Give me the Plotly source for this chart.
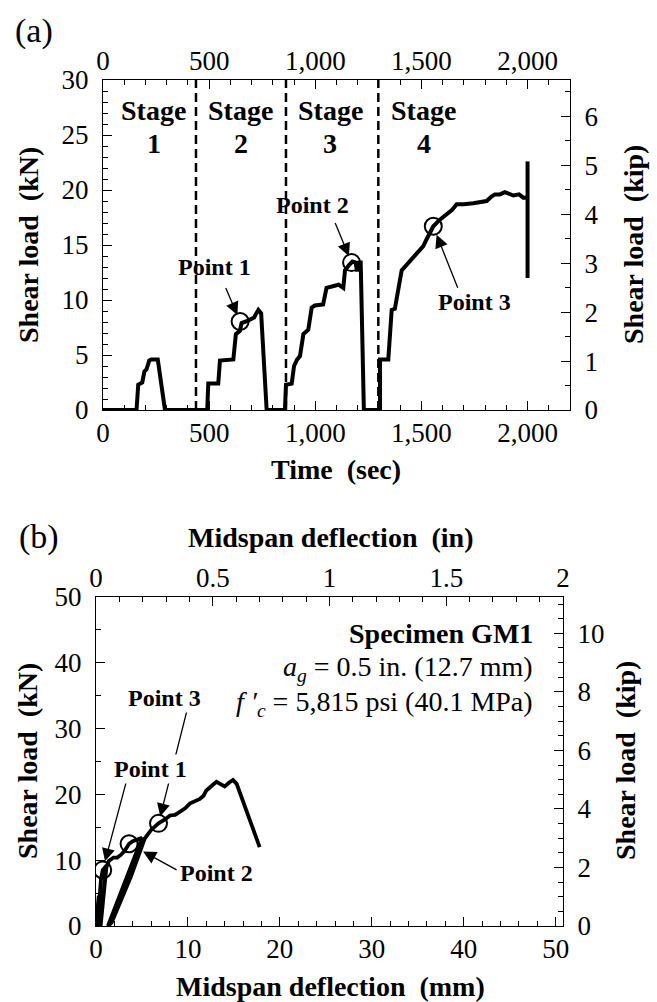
import plotly.graph_objects as go

KN_PER_KIP = 4.448
MM_PER_IN = 25.4
FONT = "Liberation Serif, Times New Roman, serif"

# ---------------- Panel (a): shear load vs time ----------------
time_s = [0, 158, 166, 185, 195, 205, 218, 228, 258, 292,
          491, 496, 543, 551, 614, 626, 645, 653, 680, 700, 712, 720, 732, 745, 771,
          857, 862, 889, 900, 915, 928, 944, 967, 983, 998, 1037, 1053, 1092, 1110, 1132,
          1140, 1160, 1175, 1190, 1197, 1207, 1214, 1229,
          1305, 1305, 1344, 1360, 1375, 1407, 1430, 1446, 1465, 1480, 1493, 1509, 1524,
          1540, 1556, 1587, 1619, 1645, 1666, 1700, 1744, 1780, 1807, 1830, 1846, 1870,
          1893, 1933, 1960, 1980, 2000]
load_a_kN = [0, 0, 2.3, 2.5, 3.5, 3.7, 4.5, 4.6, 4.6, 0,
             0, 2.4, 2.4, 4.5, 4.6, 6.9, 7.2, 7.9, 8.1, 8.3, 8.4, 8.7, 9.1, 8.8, 0,
             0, 2.3, 2.4, 4.0, 4.6, 4.9, 6.9, 7.3, 9.3, 9.5, 9.6, 11.1, 11.3, 11.4, 11.1,
             12.7, 13.2, 13.5, 13.4, 12.6, 13.4, 13.4, 0,
             0, 4.6, 4.6, 9.1, 9.2, 12.7, 13.2, 13.5, 13.9, 14.3, 14.6, 14.9, 15.5,
             16.2, 16.7, 17.3, 17.8, 18.2, 18.7, 18.7, 18.8, 18.9, 19.0, 19.4, 19.6, 19.6,
             19.8, 19.5, 19.6, 19.3, 19.3]
end_time_s = [2000, 2000]
end_load_kN = [12.0, 22.6]
stage_bounds_s = [438, 862, 1297]
stage_names = ["1", "2", "3", "4"]
stage_label_t = [239, 648, 1071, 1511]
points_a_t = [646, 1171, 1556]
points_a_kN = [8.05, 13.4, 16.7]
point_names = ["Point 1", "Point 2", "Point 3"]

time_tickvals = [0, 500, 1000, 1500, 2000]
time_ticktext = ["0", "500", "1,000", "1,500", "2,000"]

# ---------------- Panel (b): shear load vs midspan deflection ----------------
defl_mm = [0, 0.2, 0.3, 0.15, 0.35, 0.55, 0.73, 0.95, 1.15, 0.5,
           0.8, 1.1, 1.4, 1.9, 2.3, 2.7, 3.1, 3.4, 3.6, 4.0, 4.5, 5.0, 1.3,
           1.7, 3.8, 5.3, 6.0, 6.8, 7.5, 8.05, 8.6, 9.1, 9.7, 10.2, 10.8, 11.3, 11.7, 12.0,
           12.5, 13.1, 13.5, 14.0, 14.5, 14.9, 15.3, 17.8]
load_b_kN = [0, 2.5, 4.6, 0, 4.0, 7.2, 8.5, 9.0, 9.2, 0,
             5.0, 8.8, 9.9, 10.4, 10.4, 10.8, 11.4, 12.0, 12.5, 12.9, 13.1, 13.4, 0,
             0.5, 7.5, 13.3, 14.6, 15.6, 16.2, 16.8, 16.9, 17.3, 17.9, 18.6, 18.9, 19.3, 19.8, 20.6,
             21.2, 21.9, 21.6, 21.2, 21.8, 22.2, 21.6, 12.0]
points_b_mm = [0.73, 3.6, 6.8]
points_b_kN = [8.5, 12.5, 15.6]

W, H = 657, 1002


def px(x):
    return x / W


def py(y):
    return 1 - y / H


fig = go.Figure()

# panel (a) traces
for b in stage_bounds_s:
    fig.add_trace(go.Scatter(x=[b, b], y=[0, 30], mode="lines",
                             line=dict(color="black", width=2.5, dash="9px,5px"),
                             xaxis="x", yaxis="y", hoverinfo="skip"))
fig.add_trace(go.Scatter(x=time_s, y=load_a_kN, mode="lines",
                         line=dict(color="black", width=4), xaxis="x", yaxis="y"))
fig.add_trace(go.Scatter(x=end_time_s, y=end_load_kN, mode="lines",
                         line=dict(color="black", width=4), xaxis="x", yaxis="y"))
fig.add_trace(go.Scatter(x=points_a_t, y=points_a_kN, mode="markers",
                         marker=dict(symbol="circle-open", size=17, color="black",
                                     line=dict(width=2, color="black")),
                         xaxis="x", yaxis="y"))
# same curve in kip on the secondary (top/right) axes, invisible, so those axes render
fig.add_trace(go.Scatter(x=time_s, y=[k / KN_PER_KIP for k in load_a_kN], mode="lines",
                         line=dict(color="black", width=1), opacity=0,
                         xaxis="x2", yaxis="y2", hoverinfo="skip"))

# panel (b) traces
fig.add_trace(go.Scatter(x=defl_mm, y=load_b_kN, mode="lines",
                         line=dict(color="black", width=3.8), xaxis="x3", yaxis="y3"))
fig.add_trace(go.Scatter(x=points_b_mm, y=points_b_kN, mode="markers",
                         marker=dict(symbol="circle-open", size=17, color="black",
                                     line=dict(width=2, color="black")),
                         xaxis="x3", yaxis="y3"))
fig.add_trace(go.Scatter(x=[m / MM_PER_IN for m in defl_mm],
                         y=[k / KN_PER_KIP for k in load_b_kN], mode="lines",
                         line=dict(color="black", width=1), opacity=0,
                         xaxis="x4", yaxis="y4", hoverinfo="skip"))

tickfont = dict(family=FONT, size=27, color="black")


def ax_common(**kw):
    d = dict(showline=True, linecolor="black", linewidth=1.3, ticks="inside",
             ticklen=9, tickwidth=1, tickcolor="black", showgrid=False, zeroline=False,
             tickfont=tickfont, automargin=False, fixedrange=True, ticklabelstandoff=8)
    d.update(kw)
    return d


def minor(dt):
    return dict(dtick=dt, tick0=0, ticks="inside", ticklen=5, tickcolor="black")


xa_dom = [px(103), px(570)]
ya_dom = [py(410), py(80)]
xb_dom = [px(96), px(563)]
yb_dom = [py(926), py(597)]

XSO = -2  # label standoff for horizontal axes

fig.update_layout(
    width=W, height=H, margin=dict(l=0, r=0, t=0, b=0),
    paper_bgcolor="white", plot_bgcolor="white", showlegend=False,
    xaxis=ax_common(domain=xa_dom, anchor="y", range=[0, 2200], tickmode="array",
                    tickvals=time_tickvals, ticktext=time_ticktext, minor=minor(100),
                    ticklabelstandoff=XSO),
    xaxis2=ax_common(overlaying="x", side="top", anchor="y", range=[0, 2200], tickmode="array",
                     tickvals=time_tickvals, ticktext=time_ticktext, minor=minor(100),
                     ticklabelstandoff=XSO),
    yaxis=ax_common(domain=ya_dom, anchor="x", range=[0, 30], dtick=5, tick0=0, minor=minor(1)),
    yaxis2=ax_common(overlaying="y", side="right", anchor="x", range=[0, 30 / KN_PER_KIP],
                     dtick=1, tick0=0, minor=minor(0.5)),
    xaxis3=ax_common(domain=xb_dom, anchor="y3", range=[0, 2 * MM_PER_IN], dtick=10, tick0=0,
                     minor=minor(2), ticklabelstandoff=XSO),
    xaxis4=ax_common(overlaying="x3", side="top", anchor="y3", range=[0, 2], dtick=0.5, tick0=0,
                     minor=minor(0.1), ticklabelstandoff=XSO),
    yaxis3=ax_common(domain=yb_dom, anchor="x3", range=[0, 50], dtick=10, tick0=0, minor=minor(5)),
    yaxis4=ax_common(overlaying="y3", side="right", anchor="x3", range=[0, 50 / KN_PER_KIP],
                     dtick=2, tick0=0, minor=minor(0.5)),
)

ann = []


def paper_text(text, x, y, size, angle=0, xanchor="center"):
    ann.append(dict(text=text, x=px(x), y=py(y), xref="paper", yref="paper",
                    showarrow=False, textangle=angle, xanchor=xanchor, yanchor="middle",
                    font=dict(family=FONT, size=size, color="black")))


# panel labels and axis titles
paper_text("(a)", 34, 31, 34)
paper_text("(b)", 39, 537, 34)
paper_text("<b>Shear load  (kN)</b>", 28, 245, 28, angle=-90)
paper_text("<b>Shear load  (kip)</b>", 633, 245, 28, angle=-90)
paper_text("<b>Time  (sec)</b>", 336, 470, 28)
paper_text("<b>Midspan deflection  (in)</b>", 330, 537, 28)
paper_text("<b>Shear load  (kN)</b>", 27, 761, 28, angle=-90)
paper_text("<b>Shear load  (kip)</b>", 625, 761, 28, angle=-90)
paper_text("<b>Midspan deflection  (mm)</b>", 330, 986, 28)

# stage labels
for name, t in zip(stage_names, stage_label_t):
    ann.append(dict(text="<b>Stage</b>", x=t, y=27.2, xref="x", yref="y", showarrow=False,
                    font=dict(family=FONT, size=28, color="black")))
    ann.append(dict(text="<b>%s</b>" % name, x=t, y=24.2, xref="x", yref="y", showarrow=False,
                    font=dict(family=FONT, size=28, color="black")))

arrow_style = dict(showarrow=True, arrowhead=2, arrowsize=2.0, arrowwidth=1.3,
                   arrowcolor="black", text="")

# panel (a) arrows (from label to circled point)
a_offsets = [(-15, -35, 7), (-17, -41, 7), (25, 63, 9)]
for (t, k), (dx, dy, so) in zip(zip(points_a_t, points_a_kN), a_offsets):
    ann.append(dict(x=t, y=k, xref="x", yref="y", ax=dx, ay=dy, standoff=so, **arrow_style))
a_label_pos = [(523, 13.0), (989, 18.6), (1752, 9.85)]
for name, (t, k) in zip(point_names, a_label_pos):
    ann.append(dict(text="<b>%s</b>" % name, x=t, y=k, xref="x", yref="y", showarrow=False,
                    font=dict(family=FONT, size=24, color="black")))

# panel (b) arrows
b_offsets = [(24, -90, 9), (49, 27, 16), (29, -115, 7)]
for (m, k), (dx, dy, so) in zip(zip(points_b_mm, points_b_kN), b_offsets):
    ann.append(dict(x=m, y=k, xref="x3", yref="y3", ax=dx, ay=dy, standoff=so, **arrow_style))
b_label_pos = [(5.88, 23.9), (13.1, 8.0), (7.5, 34.7)]
for name, (m, k) in zip(point_names, b_label_pos):
    ann.append(dict(text="<b>%s</b>" % name, x=m, y=k, xref="x3", yref="y3", showarrow=False,
                    bgcolor="white", font=dict(family=FONT, size=24, color="black")))

# specimen info
spec_lines = ["<b>Specimen GM1</b>",
              "<i>a</i><sub><i>g</i></sub> = 0.5 in. (12.7 mm)",
              "<i>f ′<sub>c</sub></i> = 5,815 psi (40.1 MPa)"]
spec_y = [44.4, 39.2, 33.8]
for txt, yy in zip(spec_lines, spec_y):
    ann.append(dict(text=txt, x=47.8, y=yy, xref="x3", yref="y3", showarrow=False,
                    xanchor="right", font=dict(family=FONT, size=28, color="black")))

fig.update_layout(annotations=ann)
fig.write_html("out.html", config={"displayModeBar": False},
               post_script="document.body.style.margin='0px';document.body.style.overflow='hidden';")
